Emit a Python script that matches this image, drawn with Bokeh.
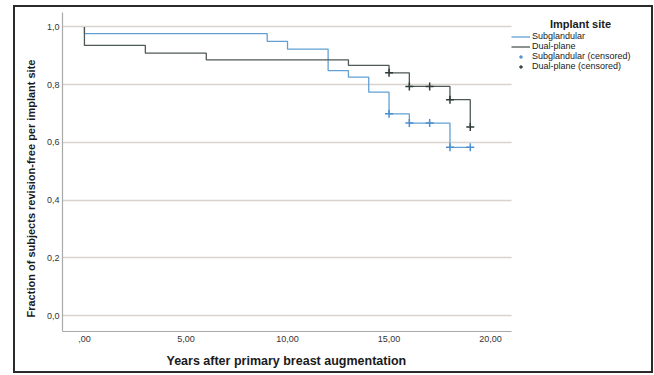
from bokeh.plotting import figure
from bokeh.models import (Legend, LegendItem, Range1d, FixedTicker, Label,
                          BoxAnnotation, Title)
from bokeh.embed import file_html
from bokeh.resources import INLINE

# ---- data ----
sub_times = [0, 0, 9, 10, 12, 13, 14, 15, 16, 18, 19]
sub_surv = [1.0, 0.977, 0.950, 0.923, 0.849, 0.826, 0.774, 0.699, 0.667, 0.583, 0.583]
sub_cens_t = [15, 16, 17, 18, 19]
sub_cens_s = [0.699, 0.667, 0.667, 0.583, 0.583]

dual_times = [0, 0, 3, 6, 13, 15, 16, 18, 19]
dual_surv = [1.0, 0.936, 0.909, 0.886, 0.867, 0.841, 0.794, 0.748, 0.653]
dual_cens_t = [15, 16, 17, 18, 19]
dual_cens_s = [0.841, 0.794, 0.794, 0.748, 0.653]

x_ticks = [0, 5, 10, 15, 20]
x_tick_labels = [",00", "5,00", "10,00", "15,00", "20,00"]
y_ticks = [0.0, 0.2, 0.4, 0.6, 0.8, 1.0]
y_tick_labels = ["0,0", "0,2", "0,4", "0,6", "0,8", "1,0"]
series_labels = ["Subglandular", "Dual-plane",
                 "Subglandular (censored)", "Dual-plane (censored)"]
legend_title = "Implant site"
x_title = "Years after primary breast augmentation"
y_title = "Fraction of subjects revision-free per implant site"

BLUE = "#62a0d4"
DARK = "#4d5955"
BLUE_M = "#4a8fd0"
DARK_M = "#2e3b37"
FONT = "Liberation Sans"

# layout geometry (pixels)
W, H = 640, 368
ML, MR, MT, MB = 47, 4, 5, 44
PLOT_W = 449                     # width of the data area
FRAME_W = W - ML - MR            # frame includes the legend zone on the right
X0, X1 = -1.08, 21.03            # data-area x extent
Y0, Y1 = -0.055, 1.05
X_END = X0 + (X1 - X0) * FRAME_W / PLOT_W
PX = PLOT_W / (X1 - X0)          # pixels per x unit
FRAME_H = H - MT - MB
PY = FRAME_H / (Y1 - Y0)         # pixels per y unit

p = figure(width=W, height=H, output_backend="svg", toolbar_location=None,
           x_range=Range1d(X0, X_END), y_range=Range1d(Y0, Y1),
           min_border_left=ML, min_border_right=MR, min_border_top=MT,
           min_border_bottom=MB)
p.margin = (5, 0, 0, 13)
p.styles = {"border": "2px solid #2b2b2b"}
p.outline_line_color = None
p.background_fill_color = "white"
p.border_fill_color = "white"

# grids
p.xgrid.grid_line_color = None
p.ygrid.ticker = FixedTicker(ticks=y_ticks)
p.ygrid.grid_line_color = "#d9d3ce"
p.ygrid.grid_line_width = 1.5
try:
    p.ygrid.cross_bounds = (X0, X1)
except Exception:
    p.add_layout(BoxAnnotation(left=X1, fill_color="white", fill_alpha=1,
                               line_color=None, level="underlay"))

# axes
for ax in (p.xaxis[0], p.yaxis[0]):
    ax.axis_line_color = "#a9a9a9"
    ax.axis_line_width = 1.2
    ax.major_tick_line_color = None
    ax.minor_tick_line_color = None
    ax.major_tick_out = 0
    ax.major_tick_in = 0
    ax.minor_tick_out = 0
    ax.minor_tick_in = 0
    ax.major_label_text_font = FONT
    ax.major_label_text_font_size = "9px"
    ax.major_label_text_color = "#333333"

p.xaxis.bounds = (X0, X1)
p.xaxis.ticker = FixedTicker(ticks=x_ticks)
p.xaxis.major_label_overrides = {t: l for t, l in zip(x_ticks, x_tick_labels)}
p.yaxis.ticker = FixedTicker(ticks=y_ticks)
p.yaxis.major_label_overrides = {t: l for t, l in zip(y_ticks, y_tick_labels)}
p.xaxis.major_label_standoff = 4
p.yaxis.major_label_standoff = 3

# axis titles as side titles so they can be placed like the original
p.add_layout(Title(text=x_title, align="left", offset=104, standoff=15,
                   text_font=FONT, text_font_style="bold",
                   text_font_size="12.5px", text_color="#1a1a1a"), "below")
p.add_layout(Title(text=y_title, align="left", offset=14, standoff=13,
                   text_font=FONT, text_font_style="bold",
                   text_font_size="11px", text_color="#1a1a1a"), "left")

# curves
r_sub = p.step(sub_times, sub_surv, mode="after", line_color=BLUE, line_width=1.3)
r_dual = p.step(dual_times, dual_surv, mode="after", line_color=DARK, line_width=1.3)
r_sub_c = p.scatter(sub_cens_t, sub_cens_s, marker="cross", size=8,
                    line_color=BLUE_M, line_width=1.5)
r_dual_c = p.scatter(dual_cens_t, dual_cens_s, marker="cross", size=8,
                     line_color=DARK_M, line_width=1.5)
r_sub_l = p.line([], [], line_color=BLUE, line_width=1.3)
r_dual_l = p.line([], [], line_color=DARK, line_width=1.3)

legend = Legend(items=[
    LegendItem(label=series_labels[0], renderers=[r_sub]),
    LegendItem(label=series_labels[1], renderers=[r_dual]),
    LegendItem(label=series_labels[2], renderers=[r_sub_l, r_sub_c]),
    LegendItem(label=series_labels[3], renderers=[r_dual_l, r_dual_c]),
], location=(PLOT_W, 260))
legend.label_text_font = FONT
legend.label_text_font_size = "9px"
legend.label_text_color = "#1a1a1a"
legend.label_height = 9
legend.glyph_height = 9
legend.glyph_width = 19
legend.label_standoff = 2
legend.spacing = 0
legend.padding = 2
legend.margin = 0
legend.border_line_color = None
legend.background_fill_alpha = 0
p.add_layout(legend)

# legend title, centred over the legend zone
p.add_layout(Label(x=X1 + 69 / PX, y=Y1 - 11 / PY, text=legend_title,
                   text_align="center", text_baseline="middle", text_font=FONT,
                   text_font_style="bold", text_font_size="11px",
                   text_color="#1a1a1a"))

open("out.html", "w").write(file_html(p, INLINE))
